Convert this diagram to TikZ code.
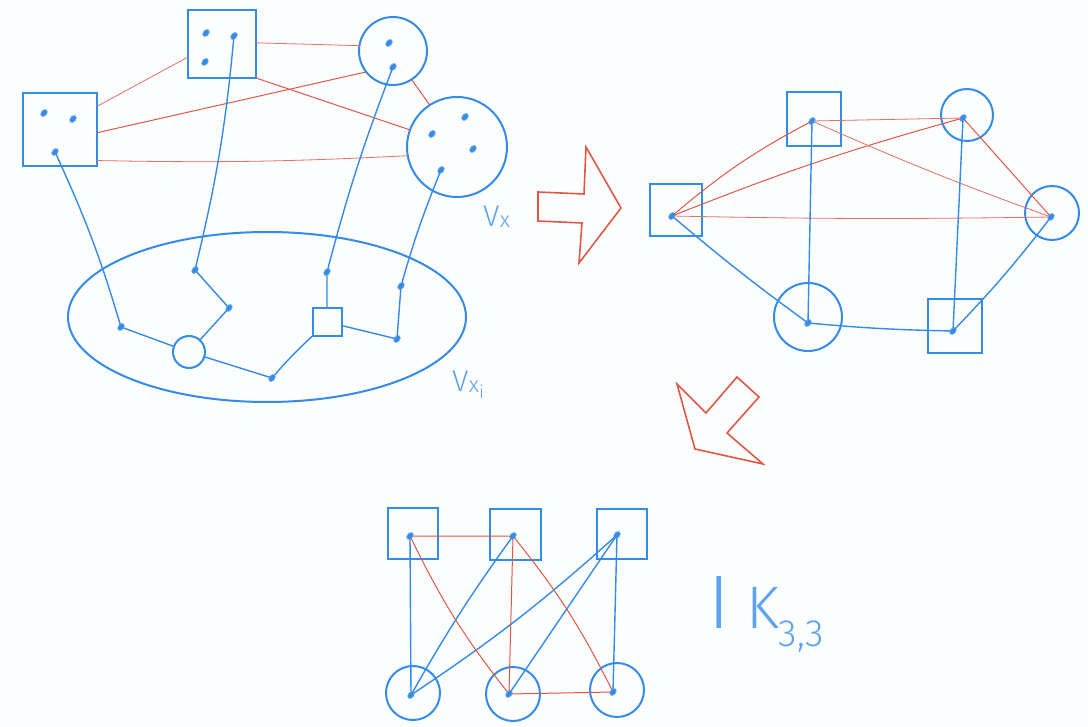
\documentclass[tikz,border=0pt]{standalone}
\usepackage{fontspec}
\usetikzlibrary{shapes.geometric}
\newfontfamily\handfont{Fira Sans}[UprightFont={* Light}]
\definecolor{pblue}{RGB}{52,140,232}
\definecolor{pred}{RGB}{222,88,68}
\definecolor{bg}{RGB}{252,253,254}
\begin{document}
\begin{tikzpicture}[x=1pt,y=-1pt,
  every node/.style={inner sep=0pt, outer sep=0pt},
  bshape/.style={draw=pblue, line width=2pt},
  sq/.style={bshape, rectangle},
  circ/.style={bshape, circle},
  dot/.style={ellipse, fill=pblue, draw=pblue!70, line width=0.6pt, minimum width=8pt, minimum height=5.5pt, rotate=50},
  bedge/.style={draw=pblue, line width=1.4pt, line cap=round},
  redge/.style={draw=pred, line width=1pt, line cap=round},
  ledge/.style={draw=pred!85, line width=0.8pt, line cap=round},
  arrowshape/.style={draw=pred, line width=1.6pt, line join=miter},
  lbl/.style={text=pblue!80, font=\handfont}]
\fill[bg] (0,0) rectangle (1088,727);
\useasboundingbox (0,0) rectangle (1088,727);

% ---------- top-left: V_x ----------
\node[sq, minimum width=74pt, minimum height=73pt] (A) at (60,129.5) {};
\node[dot] (a1) at (44,113) {};
\node[dot] (a2) at (73,119) {};
\node[dot] (a3) at (55,152) {};
\node[sq, minimum size=68pt] (B) at (222,44) {};
\node[dot] (b1) at (206,33) {};
\node[dot] (b2) at (234,36) {};
\node[dot] (b3) at (205,62) {};
\node[circ, minimum size=68pt] (C) at (393,51) {};
\node[dot] (c1) at (389,43) {};
\node[dot] (c2) at (393,67) {};
\node[circ, minimum size=100pt] (D) at (457,147) {};
\node[dot] (d1) at (465,117) {};
\node[dot] (d2) at (432,134) {};
\node[dot] (d3) at (473,149) {};
\node[dot] (d4) at (441,170) {};
\node[lbl, anchor=base west, font=\handfont\fontsize{30}{30}\selectfont] (vx) at (483,227) {V\kern0.02em\raisebox{-0.02em}{\fontsize{22}{22}\selectfont x}};

\draw[ledge] (A.32) -- (B.201);
\draw[ledge] (B.2) -- (C.171);
\draw[redge] (A.-5) -- (C.218);
\draw[redge] (B.-45) -- (D.160);
\draw[redge] (C.-57) -- (D.123);
\draw[ledge] (A.-40) to[bend right=2] (D.190);

% ---------- ellipse V_{x_i} ----------
\node[bshape, ellipse, minimum width=398pt, minimum height=170pt] (E) at (267,317) {};
\node[dot] (e1) at (121,327) {};
\node[dot] (e2) at (195,270) {};
\node[dot] (e3) at (229,308) {};
\node[circ, minimum size=32pt] (sc) at (189,352) {};
\node[dot] (e4) at (272,378) {};
\node[sq, minimum width=29pt, minimum height=28pt] (ss) at (327,322) {};
\node[dot] (e5) at (327,272) {};
\node[dot] (e6) at (401,286) {};
\node[dot] (e7) at (397,339) {};
\node[lbl, anchor=base west, font=\handfont\fontsize{30}{30}\selectfont] (vxi) at (452,392) {V\kern0.02em\raisebox{-0.02em}{\fontsize{22}{22}\selectfont x\raisebox{-0.25em}{\fontsize{18}{18}\selectfont i}}};

\draw[bedge] (a3) to[bend left=4] (e1);
\draw[bedge] (b2) to[bend left=4] (e2);
\draw[bedge] (c2) to[bend right=3] (e5);
\draw[bedge] (d4) to[bend right=3] (e6);
\draw[bedge] (e6) -- (e7);
\draw[bedge] (e1) -- (sc);
\draw[bedge] (e2) -- (e3);
\draw[bedge] (e3) -- (sc);
\draw[bedge] (sc) -- (e4);
\draw[bedge] (e4) to[bend left=3] (ss.south west);
\draw[bedge] (e5) -- (ss);
\draw[bedge] (ss) -- (e7);

% ---------- arrows ----------
\draw[arrowshape] (538,192) -- (584,194) -- (586,147) -- (621,208) -- (579,263) -- (582,223) -- (538,221) -- cycle;
\draw[arrowshape] (677,384) -- (706,413) -- (737,377) -- (759,397) -- (727,433) -- (763,464) -- (695,449) -- cycle;

% ---------- right graph ----------
\node[sq, minimum size=52pt] (R1) at (676,210) {};
\node[dot] (r1) at (672,216) {};
\node[sq, minimum size=54pt] (R2) at (814,119) {};
\node[dot] (r2) at (812,121) {};
\node[circ, minimum size=52pt] (R3) at (967,115) {};
\node[dot] (r3) at (963,118) {};
\node[circ, minimum size=54pt] (R4) at (1052,213) {};
\node[dot] (r4) at (1051,217) {};
\node[circ, minimum size=68pt] (R5) at (808,317) {};
\node[dot] (r5) at (808,323) {};
\node[sq, minimum size=54pt] (R6) at (955,326) {};
\node[dot] (r6) at (953,331) {};

\draw[redge] (r1) to[bend left=6] (r2);
\draw[redge] (r1) to[bend left=3] (r3);
\draw[ledge] (r1) to[bend right=1] (r4);
\draw[ledge] (r2) -- (r3);
\draw[ledge] (r2) to[bend right=2] (r4);
\draw[redge] (r3) -- (r4);
\draw[bedge] (r1) to[bend right=2] (r5);
\draw[bedge] (r2) -- (r5);
\draw[bedge] (r3) -- (r6);
\draw[bedge] (r4) to[bend left=3] (r6);
\draw[bedge] (r5) to[bend right=2] (r6);

% ---------- K_{3,3} ----------
\node[sq, minimum width=50pt, minimum height=51pt] (T1) at (413,533.5) {};
\node[dot] (t1) at (410,536) {};
\node[sq, minimum size=51pt] (T2) at (515.5,534.5) {};
\node[dot] (t2) at (513,536) {};
\node[sq, minimum size=50pt] (T3) at (622,534) {};
\node[dot] (t3) at (617,535) {};
\node[circ, minimum size=54pt] (K1) at (413,693) {};
\node[dot] (k1) at (411,695) {};
\node[circ, minimum size=54pt] (K2) at (513,694) {};
\node[dot] (k2) at (509,694) {};
\node[circ, minimum size=54pt] (K3) at (617,690) {};
\node[dot] (k3) at (613,692) {};

\draw[bedge] (t1) -- (k1);
\draw[bedge] (t2) to[bend right=3] (k1);
\draw[bedge] (t3) to[bend left=4] (k1);
\draw[bedge] (t3) -- (k2);
\draw[bedge] (t3) -- (k3);
\draw[redge] (t1) -- (t2);
\draw[redge] (t1) to[bend right=6] (k2);
\draw[redge] (t2) -- (k2);
\draw[redge] (t2) to[bend left=6] (k3);
\draw[redge] (k2) -- (k3);

\node[lbl, anchor=base west, font=\handfont\fontsize{76}{76}\selectfont] (k33) at (708,628) {I\hspace{0.22em}{\fontsize{60}{60}\selectfont K\raisebox{-0.3em}{\fontsize{38}{38}\selectfont 3,3}}};
\end{tikzpicture}
\end{document}
